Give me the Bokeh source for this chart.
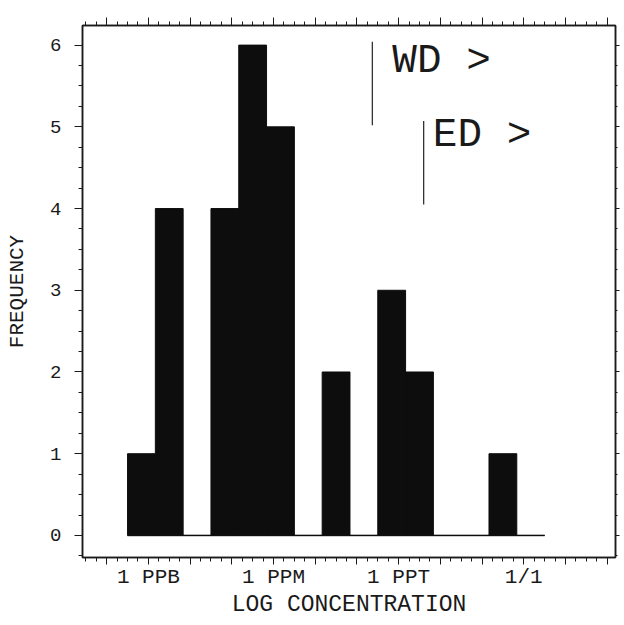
import numpy as np
from bokeh.plotting import figure
from bokeh.models import FixedTicker, LinearAxis, Range1d, ColumnDataSource
from bokeh.core.properties import value
from bokeh.embed import file_html
from bokeh.resources import INLINE

# ---- data ----
bin_start = -9.5          # log10 concentration of the first bin edge
bin_width = 2.0 / 3.0     # bin width in decades
frequency = [1, 4, 0, 4, 6, 5, 0, 2, 0, 3, 2, 0, 0, 1, 0]

tick_values = [-9, -6, -3, 0]
tick_labels = ["1 PPB", "1 PPM", "1 PPT", "1/1"]

marker_names = ["WD >", "ED >"]
marker_x = [-3.63, -2.40]
marker_y0 = [5.02, 4.05]
marker_y1 = [6.04, 5.07]
label_x = [-3.15, -2.18]
label_y = [5.80, 4.90]

FONT = "Liberation Mono"
INK = "#1a1a1a"

edges = bin_start + bin_width * np.arange(len(frequency) + 1)
src = ColumnDataSource(dict(left=edges[:-1], right=edges[1:], top=frequency,
                            bottom=[0] * len(frequency)))

p = figure(frame_width=533, frame_height=532,
           x_range=Range1d(-10.58, 2.2), y_range=Range1d(-0.27, 6.24),
           output_backend="svg", toolbar_location=None,
           min_border_left=82, min_border_top=25, min_border_right=5,
           min_border_bottom=0, background_fill_color="white",
           border_fill_color="white")
p.xgrid.visible = False
p.ygrid.visible = False
p.outline_line_color = INK
p.outline_line_width = 1.5

# baseline under the bars
p.segment(x0=[edges[0]], x1=[edges[-1]], y0=[0], y1=[0], line_color="#444444", line_width=1.5)
p.quad(left="left", right="right", top="top", bottom="bottom", source=src,
       fill_color="#0d0d0d", line_color="#0d0d0d", line_width=1)

# WD / ED markers
p.segment(x0=marker_x, x1=marker_x, y0=marker_y0, y1=marker_y1, line_color="#333333", line_width=1.3)
p.text(x=label_x, y=label_y, text=marker_names, text_font=value(FONT), text_font_size="41px",
       text_color=INK, text_baseline="middle", text_align="left")

xmajor = list(range(-10, 3))
xminor = [k / 4 for k in range(-44, 12)]
yminor = [k / 4 for k in range(-1, 25)]

def style(ax):
    ax.axis_line_color = INK
    ax.axis_line_width = 1.5
    ax.major_tick_line_color = INK
    ax.minor_tick_line_color = INK
    ax.major_tick_in = 0
    ax.minor_tick_in = 0
    ax.major_tick_out = 8
    ax.minor_tick_out = 4
    ax.major_label_text_font = FONT
    ax.major_label_text_color = INK
    ax.axis_label_text_font = FONT
    ax.axis_label_text_font_style = "normal"
    ax.axis_label_text_color = INK

xb = p.xaxis[0]
xb.ticker = FixedTicker(ticks=xmajor, minor_ticks=xminor)
xb.major_label_overrides = {t: (tick_labels[tick_values.index(t)] if t in tick_values else "") for t in xmajor}
style(xb)
xb.major_tick_out = 7
xb.major_label_text_font_size = "21px"
xb.major_label_standoff = 1
xb.axis_label = "LOG CONCENTRATION"
xb.axis_label_text_font_size = "23px"
xb.axis_label_standoff = 0

yl = p.yaxis[0]
yl.ticker = FixedTicker(ticks=list(range(0, 7)), minor_ticks=yminor)
style(yl)
yl.major_label_text_font_size = "19px"
yl.major_label_standoff = 13
yl.axis_label = "FREQUENCY"
yl.axis_label_text_font_size = "21px"
yl.axis_label_standoff = 18

xt = LinearAxis(ticker=FixedTicker(ticks=xmajor, minor_ticks=xminor))
style(xt)
xt.major_label_overrides = {t: "" for t in xmajor}
xt.major_label_standoff = 0
p.add_layout(xt, "above")

yr = LinearAxis(ticker=FixedTicker(ticks=list(range(0, 7)), minor_ticks=yminor))
style(yr)
yr.major_label_overrides = {t: "" for t in range(0, 7)}
yr.major_label_standoff = 0
yr.major_tick_out = 4
yr.minor_tick_out = 2
p.add_layout(yr, "right")

open("out.html", "w").write(file_html(p, INLINE))
